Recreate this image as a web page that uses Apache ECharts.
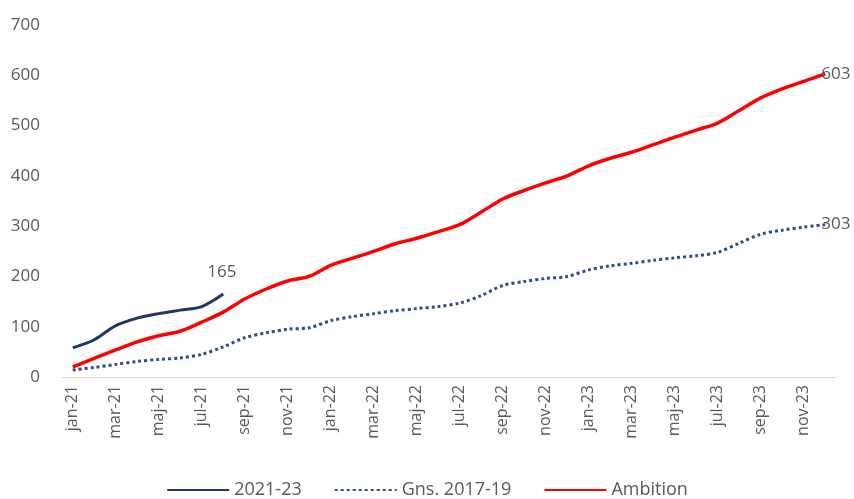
<!DOCTYPE html>
<html>
<head>
<meta charset="utf-8">
<script src="https://cdn.jsdelivr.net/npm/echarts@6/dist/echarts.min.js"></script>
<style>
  html, body { margin: 0; padding: 0; background: #fff; }
  #chart { width: 854px; height: 499px; }
</style>
</head>
<body>
<div id="chart"></div>
<script>
var months = ['jan','feb','mar','apr','maj','jun','jul','aug','sep','okt','nov','dec'];
var categories = [];
['21','22','23'].forEach(function (y) {
    months.forEach(function (m) { categories.push(m + '-' + y); });
});

var actual = [58, 74, 102, 117, 126, 133, 140, 165];
var baseline = [14, 19, 25, 31, 35, 38, 45, 60, 78, 88, 95, 98,
                112, 120, 126, 132, 136, 140, 147, 162, 182, 190, 196, 200,
                213, 221, 226, 232, 237, 241, 248, 266, 284, 292, 298, 303];
var ambition = [20, 37, 54, 70, 82, 91, 109, 129, 155, 175, 191, 200,
                222, 236, 250, 265, 276, 289, 303, 328, 354, 371, 386, 400,
                420, 435, 447, 462, 477, 491, 505, 530, 555, 573, 588, 603];
var yTicks = [0, 700, 100];

var textColor = '#595959';
var fontFam = '"Open Sans", "Liberation Sans", sans-serif';

function endLabel(offset) {
    return {
        show: true,
        formatter: '{c}',
        color: textColor,
        fontSize: 17,
        fontFamily: fontFam,
        distance: 0,
        offset: offset
    };
}

var chart = echarts.init(document.getElementById('chart'));
var option = {
    animation: false,
    textStyle: { fontFamily: fontFam },
    grid: { left: 62, right: 18, top: 25, bottom: 122, containLabel: false },
    legend: {
        bottom: -5,
        left: 'center',
        itemWidth: 62,
        itemHeight: 10,
        itemGap: 32,
        itemStyle: { opacity: 0 },
        textStyle: { color: textColor, fontSize: 18, fontFamily: fontFam },
        data: ['2021-23', 'Gns. 2017-19', 'Ambition']
    },
    xAxis: {
        type: 'category',
        boundaryGap: true,
        data: categories,
        axisTick: { show: false },
        axisLine: { show: true, lineStyle: { color: '#d9d9d9', width: 1 } },
        axisLabel: {
            interval: 1,
            rotate: 90,
            color: textColor,
            fontSize: 16,
            fontFamily: fontFam,
            margin: 8
        }
    },
    yAxis: {
        type: 'value',
        min: yTicks[0],
        max: yTicks[1],
        interval: yTicks[2],
        axisLine: { show: false },
        axisTick: { show: false },
        splitLine: { show: false },
        axisLabel: { color: textColor, fontSize: 17, fontFamily: fontFam, margin: 22 }
    },
    series: [
        {
            name: '2021-23',
            type: 'line',
            symbol: 'none',
            smooth: 0.3,
            lineStyle: { color: '#1f3864', width: 3 },
            itemStyle: { color: '#1f3864' },
            endLabel: endLabel([-16, -22]),
            data: actual
        },
        {
            name: 'Gns. 2017-19',
            type: 'line',
            symbol: 'none',
            smooth: 0.3,
            lineStyle: { color: '#2f4f7f', width: 3, type: [3, 3] },
            itemStyle: { color: '#2f4f7f' },
            endLabel: endLabel([-4, 0]),
            data: baseline
        },
        {
            name: 'Ambition',
            type: 'line',
            symbol: 'none',
            smooth: 0.3,
            lineStyle: { color: '#ff0000', width: 3.5 },
            itemStyle: { color: '#ff0000' },
            endLabel: endLabel([-4, 0]),
            data: ambition
        }
    ]
};
chart.setOption(option);
window.addEventListener('resize', function () { chart.resize(); });
</script>
</body>
</html>
